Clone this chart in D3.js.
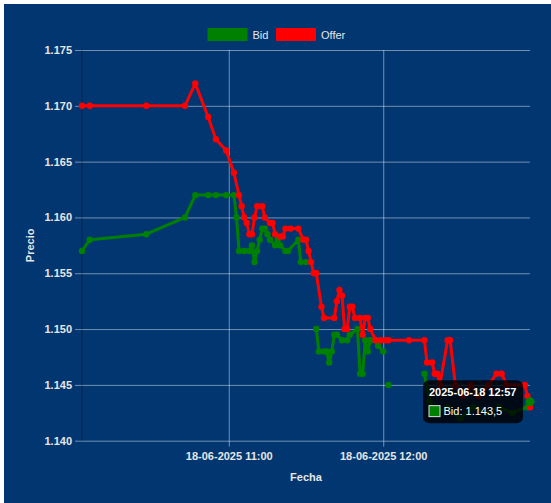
<!DOCTYPE html>
<html>
<head>
<meta charset="utf-8">
<script src="https://cdn.jsdelivr.net/npm/d3@7"></script>
<style>
  body { margin: 0; background: #fff; }
  svg { display: block; font-family: "Liberation Sans", Arial, sans-serif; }
</style>
</head>
<body>
<div id="chart"></div>
<script>
// Bid series (null = no quote, line breaks there)
var bidTimes = ["10:03","10:06","10:28","10:43","10:47","10:52","10:55","10:59","11:02","11:03",
                "11:04","11:06","11:08","11:09","11:10","11:11","11:12","11:13","11:14","11:15",
                "11:16","11:18","11:19","11:20","11:22","11:23","11:27","11:28","11:30","11:31",
                "11:34","11:35","11:37","11:38","11:39","11:40","11:41","11:42","11:44","11:46",
                "11:47","11:50","11:51","11:52","11:53","11:54","11:55","11:57","11:58","12:00",
                "12:01","12:02","12:10","12:16","12:18","12:21","12:25","12:30","12:35","12:40",
                "12:45","12:50","12:56","12:57"];
var bidValues = [1157,1158,1158.5,1160,1162,1162,1162,1162,1162,1160,
                 1157,1157,1157,1157.5,1156,1157,1158,1159,1159,1158.5,
                 1158,1157.5,1158,1157.5,1157,1157,1158,1156,1156,null,
                 1150,1148,1148,1148,1147,1148,1149.5,1149.5,1149,1149,
                 1149.5,1150,1146,1146,1149,1148,1149,1149,1148.5,1148,
                 null,1145,null,1146,1143.5,1142.5,1143,1142,1143,1142.5,
                 1143,1142.5,1143,1143.5];

// Offer series
var offerTimes = ["10:03","10:06","10:28","10:43","10:47","10:52","10:55","10:59","11:02","11:04",
                  "11:05","11:06","11:07","11:08","11:09","11:10","11:11","11:13","11:14","11:16",
                  "11:17","11:18","11:20","11:21","11:22","11:24","11:27","11:29","11:30","11:31",
                  "11:32","11:33","11:34","11:36","11:37","11:41","11:42","11:43","11:44","11:45",
                  "11:46","11:47","11:48","11:49","11:51","11:52","11:53","11:54","11:55","11:57",
                  "11:59","12:01","12:02","12:10","12:16","12:17","12:19","12:20","12:21","12:22",
                  "12:25","12:26","12:28","12:31","12:34","12:37","12:41","12:44","12:46","12:48",
                  "12:55","12:56","12:57"];
var offerValues = [1170,1170,1170,1170,1172,1169,1167,1166,1164,1162,
                   1161,1160,1159.5,1158.5,1158.5,1160,1161,1161,1160,1159.5,
                   1159.5,1158.5,1158.3,1158.3,1159,1159,1159,1158,1158,1157,
                   1156,1155,1155,1152,1151,1151,1152.5,1153.5,1153,1150,
                   1150,1152,1152,1151,1151,1149.5,1151,1151,1150,1149,
                   1149,1149,1149,1149,1149,1147,1147,1146,1146,1145,
                   1149,1149,1145,1144,1145,1144,1145,1146,1146,1145,
                   1145,1144,1143];

var yTicks = [1140,1145,1150,1155,1160,1165,1170,1175];
var xTicks = ["11:00","12:00"];
var day = "2025-06-18";

var W = 551, H = 503;
var plotL = 82, plotR = 530, plotT = 50, plotB = 440.7;
var textColor = "#e6e6e6",
    gridColor = "rgba(255,255,255,0.45)";

var es = d3.formatLocale({decimal: ",", thousands: ".", grouping: [3], currency: ["", " €"]});
var parseT = d3.timeParse("%Y-%m-%d %H:%M");
function t(s) { return parseT(day + " " + s); }

var bid = bidTimes.map(function(s, i) { return {t: t(s), v: bidValues[i]}; });
var offer = offerTimes.map(function(s, i) { return {t: t(s), v: offerValues[i]}; });

var x = d3.scaleTime()
    .domain(d3.extent(bid.concat(offer), function(d) { return d.t; }))
    .range([plotL, plotR]);
var y = d3.scaleLinear().domain([1140, 1175]).range([plotB, plotT]);

var svg = d3.select("#chart").append("svg")
    .attr("width", W).attr("height", H);

svg.append("rect")
    .attr("x", 4).attr("y", 4)
    .attr("width", W - 4).attr("height", H - 4)
    .attr("fill", "#013670");

// y axis + grid
var yAxis = svg.append("g")
    .attr("transform", "translate(" + plotL + ",0)")
    .call(d3.axisLeft(y).tickValues(yTicks).tickSize(7).tickPadding(3)
        .tickFormat(es.format(",.0f")));
yAxis.select(".domain").remove();
yAxis.selectAll(".tick line").attr("stroke", gridColor);
yAxis.selectAll(".tick").append("line")
    .attr("x1", 0).attr("x2", plotR - plotL)
    .attr("stroke", gridColor);
yAxis.selectAll("text")
    .attr("fill", textColor)
    .style("font-size", "11px").style("font-weight", "bold")
    .style("font-family", "'Liberation Sans', Arial, sans-serif");

// x axis + grid
var xAxis = svg.append("g")
    .attr("transform", "translate(0," + plotB + ")")
    .call(d3.axisBottom(x).tickValues(xTicks.map(t)).tickSize(6).tickPadding(6)
        .tickFormat(d3.timeFormat("%d-%m-%Y %H:%M")));
xAxis.select(".domain").remove();
xAxis.selectAll(".tick line").attr("stroke", gridColor);
xAxis.selectAll(".tick").append("line")
    .attr("y1", 0).attr("y2", plotT - plotB)
    .attr("stroke", gridColor);
xAxis.selectAll("text")
    .attr("fill", textColor)
    .style("font-size", "11px").style("font-weight", "bold")
    .style("font-family", "'Liberation Sans', Arial, sans-serif");

// dark border on the left of the plot
svg.append("line")
    .attr("x1", plotL).attr("x2", plotL)
    .attr("y1", plotT).attr("y2", plotB)
    .attr("stroke", "rgba(0,0,0,0.3)");

// axis titles
svg.append("text")
    .attr("x", (plotL + plotR) / 2).attr("y", 481)
    .attr("text-anchor", "middle")
    .attr("fill", textColor)
    .style("font-size", "11px").style("font-weight", "bold")
    .text("Fecha");
svg.append("text")
    .attr("transform", "translate(34," + (plotT + plotB) / 2 + ") rotate(-90)")
    .attr("text-anchor", "middle")
    .attr("fill", textColor)
    .style("font-size", "11px").style("font-weight", "bold")
    .text("Precio");

// series
var series = [
    {name: "Bid", color: "#008000", data: bid},
    {name: "Offer", color: "#ff0000", data: offer}
];

var line = d3.line()
    .defined(function(d) { return d.v != null; })
    .x(function(d) { return x(d.t); })
    .y(function(d) { return y(d.v); });

series.forEach(function(s) {
    var g = svg.append("g");
    g.append("path")
        .datum(s.data)
        .attr("fill", "none")
        .attr("stroke", s.color)
        .attr("stroke-width", 3)
        .attr("stroke-linejoin", "round")
        .attr("d", line);
    g.selectAll("circle")
        .data(s.data.filter(function(d) { return d.v != null; }))
        .enter().append("circle")
        .attr("cx", function(d) { return x(d.t); })
        .attr("cy", function(d) { return y(d.v); })
        .attr("r", 3.2)
        .attr("fill", s.color);
});

// legend
var legend = svg.append("g");
var lx = [207.5, 276];
series.forEach(function(s, i) {
    legend.append("rect")
        .attr("x", lx[i]).attr("y", 28)
        .attr("width", 40).attr("height", 13)
        .attr("fill", s.color);
    legend.append("text")
        .attr("x", lx[i] + 45).attr("y", 38.5)
        .attr("fill", textColor)
        .style("font-size", "11px")
        .text(s.name);
});

// tooltip on the last bid point
var hover = bid[bid.length - 1];
var px = x(hover.t), py = y(hover.v);
svg.append("circle")
    .attr("cx", px).attr("cy", py).attr("r", 4.5)
    .attr("fill", "#008000");

var tw = 100, th = 43;
var tx = px - 7 - tw, ty = py - th / 2;
var tip = svg.append("g").attr("transform", "translate(" + tx + "," + ty + ")");
tip.append("rect")
    .attr("width", tw).attr("height", th).attr("rx", 6)
    .attr("fill", "rgba(0,0,0,0.8)");
tip.append("text")
    .attr("x", 6).attr("y", 15.5)
    .attr("fill", "#fff")
    .style("font-size", "11px").style("font-weight", "bold")
    .text(d3.timeFormat("%Y-%m-%d %H:%M")(hover.t));
tip.append("rect")
    .attr("x", 6).attr("y", 25.5).attr("width", 11).attr("height", 11)
    .attr("fill", "#008000")
    .attr("stroke", "#ddd").attr("stroke-width", 1);
tip.append("text")
    .attr("x", 20.5).attr("y", 34.5)
    .attr("fill", "#fff")
    .style("font-size", "11px")
    .text("Bid: " + es.format(",~f")(hover.v));
</script>
</body>
</html>
